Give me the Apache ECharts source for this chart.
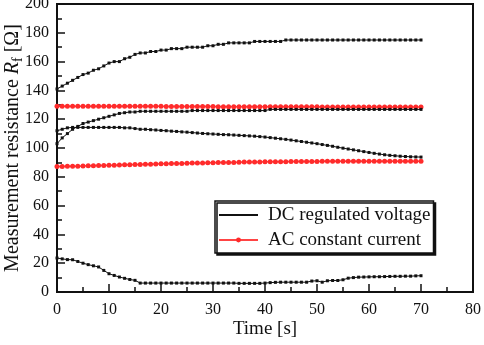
<!DOCTYPE html>
<html>
<head>
<meta charset="utf-8">
<script src="https://cdn.jsdelivr.net/npm/echarts@6/dist/echarts.min.js"></script>
<style>
  html, body { margin: 0; padding: 0; background: #fff; }
  #chart { width: 484px; height: 345px; }
</style>
</head>
<body>
<div id="chart"></div>
<script>
// time [s]
var times = [0,1,2,3,4,5,6,7,8,9,10,11,12,13,14,15,16,17,18,19,20,21,22,23,24,25,26,27,28,29,30,
  31,32,33,34,35,36,37,38,39,40,41,42,43,44,45,46,47,48,49,50,51,52,53,54,55,56,57,58,59,60,
  61,62,63,64,65,66,67,68,69,70];

// DC regulated voltage (four curves)
var dcTop = [141,143,145,147,149,151,152,154,155,157,159,160,160,162,163,165,166,166,167,167,168,
  168,169,169,169,170,170,170,170,171,171,172,172,173,173,173,173,173,174,174,174,
  174,174,174,175,175,175,175,175,175,175,175,175,175,175,175,175,175,175,175,175,
  175,175,175,175,175,175,175,175,175,175];
var dcMidUp = [103,107,110,113,115,117,118,119,120,121,122,123,124,124.5,125,125,125.5,125.5,125.5,125.5,125.5,
  125.5,125.5,125.5,125.5,125.5,126,126,126,126,126,126,126,126,126,126,126,126,126,126,126,
  126.8,126.8,126.8,126.8,126.8,126.8,126.8,126.8,126.8,126.8,126.8,126.8,126.8,126.8,126.8,126.8,126.8,126.8,126.8,126.8,
  126.8,126.8,126.8,126.8,126.8,126.8,126.8,126.8,126.8,126.8];
var dcMidDown = [112,113,114,114.3,114.3,114.3,114.3,114.3,114.3,114.3,114.3,114.3,114.3,114,114,113.5,113,113,112.7,112.5,112.2,
  112,111.7,111.5,111.2,111,110.7,110.4,110.1,109.9,109.7,109.5,109.3,109.2,109,108.8,108.6,108.4,108.2,107.9,107.6,
  107.2,106.8,106.4,106,105.5,105,104.5,104,103.5,103,102.4,101.8,101.2,100.5,99.9,99.3,98.7,98.1,97.5,96.9,
  96.3,95.8,95.3,94.9,94.6,94.3,94.1,93.9,93.8,93.7];
var dcBottom = [23.6,23,22.5,22.4,21.2,20,19,18.2,17.4,15,12.7,11.5,10.4,9.5,8.7,8.1,6.2,6.2,6.2,6.2,6.2,
  6.2,6.2,6.2,6.2,6.2,6.2,6.2,6.2,6.2,6.2,6.2,6.2,6.2,6.2,6,6,6,6,6,6.2,
  6.5,6.7,6.8,6.8,6.8,6.8,6.8,6.8,7.6,7.8,6.8,7.8,8,8,8.5,9.6,10,10.3,10.4,10.5,
  10.6,10.6,10.7,10.8,10.9,10.9,11,11,11.2,11.3];

// AC constant current (two curves)
var acUpper = [129,129,129,129,129,129,129,129,129,129,129,129,129,129,129,129,129,129,129,129,129,
  128.8,128.8,128.8,128.8,128.8,128.8,128.8,128.8,128.8,128.8,128.7,128.7,128.7,128.7,128.7,128.7,128.7,128.7,128.7,128.7,
  128.6,128.6,128.6,128.6,128.6,128.6,128.6,128.6,128.6,128.6,128.5,128.5,128.5,128.5,128.5,128.5,128.5,128.5,128.5,128.5,
  128.4,128.4,128.4,128.4,128.4,128.4,128.4,128.4,128.4,128.4];
var acLower = [87.2,87.2,87.3,87.3,87.4,87.5,87.6,87.7,87.8,87.9,88,88.1,88.2,88.3,88.4,88.5,88.6,88.7,88.8,88.9,89,
  89.1,89.2,89.3,89.3,89.4,89.5,89.5,89.6,89.7,89.8,89.9,89.9,90,90,90.1,90.2,90.2,90.3,90.3,90.4,
  90.4,90.5,90.5,90.5,90.6,90.6,90.6,90.7,90.7,90.7,90.8,90.8,90.8,90.8,90.8,90.8,90.8,90.8,90.8,90.8,
  90.8,90.8,90.8,90.8,90.8,90.8,90.8,90.8,90.8,90.8];

var DC_NAME = 'DC regulated voltage';
var AC_NAME = 'AC constant current';
var FONT = '"Liberation Serif", "DejaVu Serif", serif';

function pairs(ys) {
  var out = [];
  for (var i = 0; i < times.length; i++) out.push([times[i], ys[i]]);
  return out;
}

function dcSeries(ys) {
  return {
    name: DC_NAME, type: 'line', data: pairs(ys),
    symbol: 'rect', symbolSize: 3,
    itemStyle: { color: '#111' },
    lineStyle: { color: '#111', width: 1 },
    z: 3
  };
}
function acSeries(ys) {
  return {
    name: AC_NAME, type: 'line', data: pairs(ys),
    symbol: 'circle', symbolSize: 5,
    itemStyle: { color: '#ff2b2b' },
    lineStyle: { color: '#ff4444', width: 1.5 },
    z: 2
  };
}

var chart = echarts.init(document.getElementById('chart'));
var option = {
  animation: false,
  backgroundColor: '#fff',
  grid: {
    left: 57, right: 11, top: 4, bottom: 53,
    outerBoundsMode: 'none',
    show: true, borderColor: '#111', borderWidth: 2
  },
  legend: {
    left: 215, top: 201,
    orient: 'vertical',
    itemWidth: 39, itemHeight: 6, itemGap: 5,
    padding: [4, 3, 3, 3],
    backgroundColor: '#fff',
    borderColor: '#111', borderWidth: 1.5,
    shadowColor: '#111', shadowOffsetX: 2, shadowOffsetY: 2, shadowBlur: 0,
    textStyle: { fontFamily: FONT, fontSize: 19, lineHeight: 20, color: '#111', padding: [0, 0, 0, 5] },
    data: [
      { name: DC_NAME, itemStyle: { opacity: 0 } },
      { name: AC_NAME }
    ]
  },
  xAxis: {
    type: 'value', min: 0, max: 80, interval: 10,
    name: 'Time [s]', nameLocation: 'middle', nameGap: 28, nameMoveOverlap: false,
    nameTextStyle: { fontFamily: FONT, fontSize: 19, color: '#111' },
    axisLine: { lineStyle: { color: '#111', width: 2 } },
    axisTick: { inside: true, length: 8, lineStyle: { color: '#111', width: 1.5 } },
    minorTick: { show: true, splitNumber: 2, length: 5, lineStyle: { color: '#111', width: 1.5 } },
    axisLabel: { fontFamily: FONT, fontSize: 16, color: '#111', margin: 10 },
    splitLine: { show: false }
  },
  yAxis: {
    type: 'value', min: 0, max: 200, interval: 20,
    name: 'Measurement resistance {i|R}{s|f} [Ω]', nameLocation: 'middle', nameGap: 32, nameMoveOverlap: false,
    nameTextStyle: {
      fontFamily: FONT, fontSize: 20, color: '#111',
      rich: {
        i: { fontFamily: FONT, fontSize: 20, fontStyle: 'italic', color: '#111' },
        s: { fontFamily: FONT, fontSize: 14, color: '#111', padding: [10, 0, 0, 0] }
      }
    },
    axisLine: { lineStyle: { color: '#111', width: 2 } },
    axisTick: { inside: true, length: 8, lineStyle: { color: '#111', width: 1.5 } },
    minorTick: { show: true, splitNumber: 2, length: 5, lineStyle: { color: '#111', width: 1.5 } },
    axisLabel: { fontFamily: FONT, fontSize: 16, color: '#111', margin: 8 },
    splitLine: { show: false }
  },
  series: [
    acSeries(acUpper),
    acSeries(acLower),
    dcSeries(dcTop),
    dcSeries(dcMidUp),
    dcSeries(dcMidDown),
    dcSeries(dcBottom)
  ]
};
chart.setOption(option);
</script>
</body>
</html>
